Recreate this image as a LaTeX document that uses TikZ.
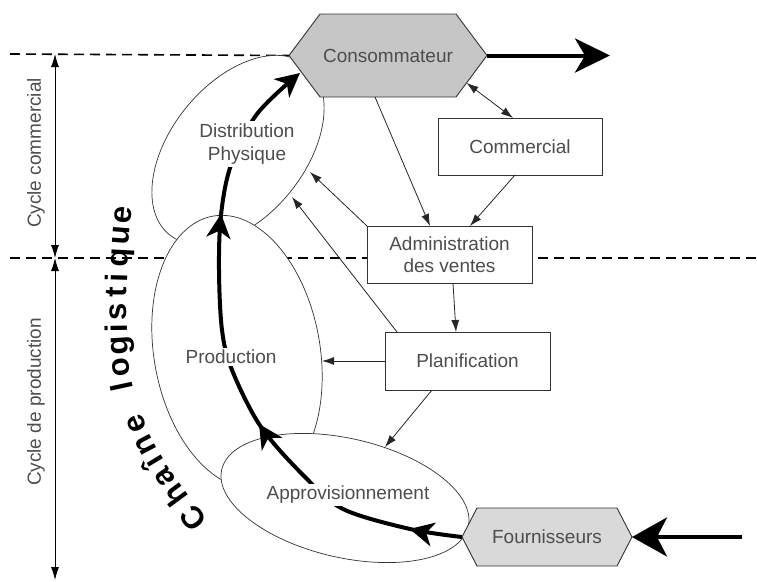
\documentclass[tikz,border=0pt]{standalone}
\usepackage{fontspec}
\setmainfont{Liberation Sans}
\usetikzlibrary{arrows.meta,decorations.markings,shapes.geometric,calc}
\pgfdeclarelayer{bg}
\pgfdeclarelayer{mid}
\pgfsetlayers{bg,mid,main}
\definecolor{txtc}{HTML}{4D4D4D}
\definecolor{linec}{HTML}{333333}
\definecolor{hexA}{HTML}{C6C6C6}
\definecolor{hexB}{HTML}{D9D9D9}
\newcommand\lblfont{\fontsize{19}{22.5}\selectfont}
\newcommand\chainfont{\fontsize{31}{31}\selectfont\bfseries}
\begin{document}
\begin{tikzpicture}[x=1pt,y=-1pt,
  lbl/.style={font=\lblfont, text=txtc},
  box/.style={lbl, draw=linec, line width=0.9pt, fill=white, align=center, inner sep=0pt, outer sep=0pt},
  hexn/.style={lbl, inner sep=0pt, outer sep=0pt},
  hexf/.style={draw=linec, line width=0.9pt},
  oval/.style={ellipse, draw=linec, line width=0.7pt, fill=white, inner sep=0pt, outer sep=0pt},
  inlbl/.style={lbl, fill=white, inner sep=2.5pt, align=center},
  conn/.style={draw=black!85, line width=0.8pt, -{Latex[length=12pt,width=8pt]}},
  conn2/.style={draw=black!85, line width=0.8pt, {Latex[length=12pt,width=8pt]}-{Latex[length=12pt,width=8pt]}},
  bigtip/.style={-{Stealth[length=24pt,width=24pt,inset=7pt]}},
  flow/.style={line width=4pt, line cap=butt},
  dashln/.style={line width=1.6pt, dash pattern=on 10pt off 6pt},
  dimarrow/.style={line width=0.8pt, {Latex[length=13pt,width=8pt]}-{Latex[length=13pt,width=8pt]}},
  chr/.style={font=\chainfont, text=black, anchor=base, inner sep=0pt, outer sep=0pt, transform shape},
]
\useasboundingbox (0,0) rectangle (757,581);

% ---- nodes (main layer)
\node[hexn, minimum width=198pt, minimum height=83pt] (cons) at (388,55.5) {Consommateur};
\node[hexn, minimum width=170pt, minimum height=58pt] (four) at (547,537) {Fournisseurs};
\node[box, minimum width=164pt, minimum height=57pt] (com) at (520,146.5) {Commercial};
\node[box, minimum width=165pt, minimum height=57pt] (adm) at (449.5,254.5) {Administration\\des ventes};
\node[box, minimum width=165pt, minimum height=58pt] (plan) at (467.5,361) {Planification};

\node[inlbl] (ldist) at (247,144) {Distribution\\Physique};
\node[inlbl] (lprod) at (231,357) {Production};
\node[inlbl] (lappro) at (348,495) {Approvisionnement};

\node[lbl, rotate=90] (cc) at (36,153) {Cycle commercial};
\node[lbl, rotate=90] (cp) at (36,402) {Cycle de production};

% ---- coordinates
\coordinate (dl0) at (10,54);
\coordinate (dl1) at (10,258);
\coordinate (dl2) at (757,258);
\coordinate (d0) at (55,54);
\coordinate (d1) at (55,258);
\coordinate (d2) at (55,580);
\coordinate (out) at (610,55.5);
\coordinate (in) at (742,537);
\coordinate (w1) at (410,529);
\coordinate (w2) at (343,509);
\coordinate (w3) at (305,477);
\coordinate (w4) at (261,427);
\coordinate (w5) at (232,370);
\coordinate (w6) at (222,330);
\coordinate (w7) at (219,270);
\coordinate (w8) at (221,215);
\coordinate (w9) at (231,165);
\coordinate (w10) at (257,114);
\coordinate (ctip) at (300,73);
\coordinate (edist1) at (310,172);
\coordinate (edist2) at (292,197);
\coordinate (eprod) at (322,361);
\coordinate (eappro) at (385,447);
\coordinate (t0) at (208,520);
\coordinate (t1) at (127,330);
\coordinate (t2) at (133,200);

% ---- background: dashed lines, ellipses, flow
\begin{pgfonlayer}{bg}
  \draw[dashln] (dl0) -- (cons.west);
  \draw[dashln] (dl1) -- (dl2);
  \node[oval, minimum width=218pt, minimum height=134pt, rotate=51] (dist) at (238,150) {};
  \node[oval, minimum width=166pt, minimum height=276pt, rotate=10] (prod) at (237,352) {};
  \node[oval, minimum width=253pt, minimum height=119pt, rotate=-13] (appro) at (345,498) {};
  \draw[flow, bigtip, postaction={decorate}, decoration={markings,
      mark=at position 53pt with {\arrow{Stealth[length=24pt,width=24pt,inset=7pt]}},
      mark=at position 243pt with {\arrow{Stealth[length=24pt,width=24pt,inset=7pt]}},
      mark=at position 461pt with {\arrow{Stealth[length=24pt,width=24pt,inset=7pt]}}}]
    plot[smooth, tension=0.55] coordinates {(four.west) (w1) (w2) (w3) (w4) (w5) (w6) (w7) (w8) (w9) (w10) (ctip)};
\end{pgfonlayer}

% ---- hexagon shapes
\begin{pgfonlayer}{mid}
  \filldraw[hexf, fill=hexA] (cons.west) -- ([xshift=31pt]cons.north west) -- ([xshift=-31pt]cons.north east)
     -- (cons.east) -- ([xshift=-31pt]cons.south east) -- ([xshift=31pt]cons.south west) -- cycle;
  \filldraw[hexf, fill=hexB] (four.west) -- ([xshift=15pt]four.north west) -- ([xshift=-15pt]four.north east)
     -- (four.east) -- ([xshift=-15pt]four.south east) -- ([xshift=15pt]four.south west) -- cycle;
\end{pgfonlayer}

% ---- big arrows
\draw[flow, -{Stealth[length=35pt,width=34pt,inset=10pt]}] (cons.east) -- (out);
\draw[flow, -{Stealth[length=35pt,width=39pt,inset=10pt]}] (in) -- (four.east);

% ---- thin connectors
\draw[conn] ([xshift=-13pt]cons.south) -- ([xshift=-19.5pt]adm.north);
\draw[conn2] ($(cons.east)!0.66!([xshift=-31pt]cons.south east)$) -- ([xshift=-7pt]com.north);
\draw[conn] ([xshift=-5pt]com.south) -- ([xshift=20.5pt]adm.north);
\draw[conn] (adm.north west) -- (edist1);
\draw[conn] ([xshift=12pt]plan.north west) -- (edist2);
\draw[conn] ([xshift=3.5pt]adm.south) -- ([xshift=-11.5pt]plan.north);
\draw[conn] (plan.west) -- (eprod);
\draw[conn] ([xshift=-35.5pt]plan.south) -- (eappro);

% ---- dimension arrows
\draw[dimarrow] (d0) -- (d1);
\draw[dimarrow] (d1) -- (d2);

% ---- curved title: letters placed along a path
\path[decorate, decoration={markings,
    mark=at position 11pt with {\node[chr] {C};},
    mark=at position 39pt with {\node[chr] {h};},
    mark=at position 60pt with {\node[chr] {a};},
    mark=at position 78pt with {\node[chr] {î};},
    mark=at position 96pt with {\node[chr] {n};},
    mark=at position 119pt with {\node[chr] {e};},
    mark=at position 157pt with {\node[chr] {l};},
    mark=at position 175pt with {\node[chr] {o};},
    mark=at position 196pt with {\node[chr] {g};},
    mark=at position 213pt with {\node[chr] {i};},
    mark=at position 229pt with {\node[chr] {s};},
    mark=at position 249pt with {\node[chr] {t};},
    mark=at position 263pt with {\node[chr] {i};},
    mark=at position 283pt with {\node[chr] {q};},
    mark=at position 305pt with {\node[chr] {u};},
    mark=at position 326pt with {\node[chr] {e};}}]
  (t0) .. controls (167,467) and (128,420) .. (t1) .. controls (126,270) and (129,238) .. (t2);
\end{tikzpicture}
\end{document}
